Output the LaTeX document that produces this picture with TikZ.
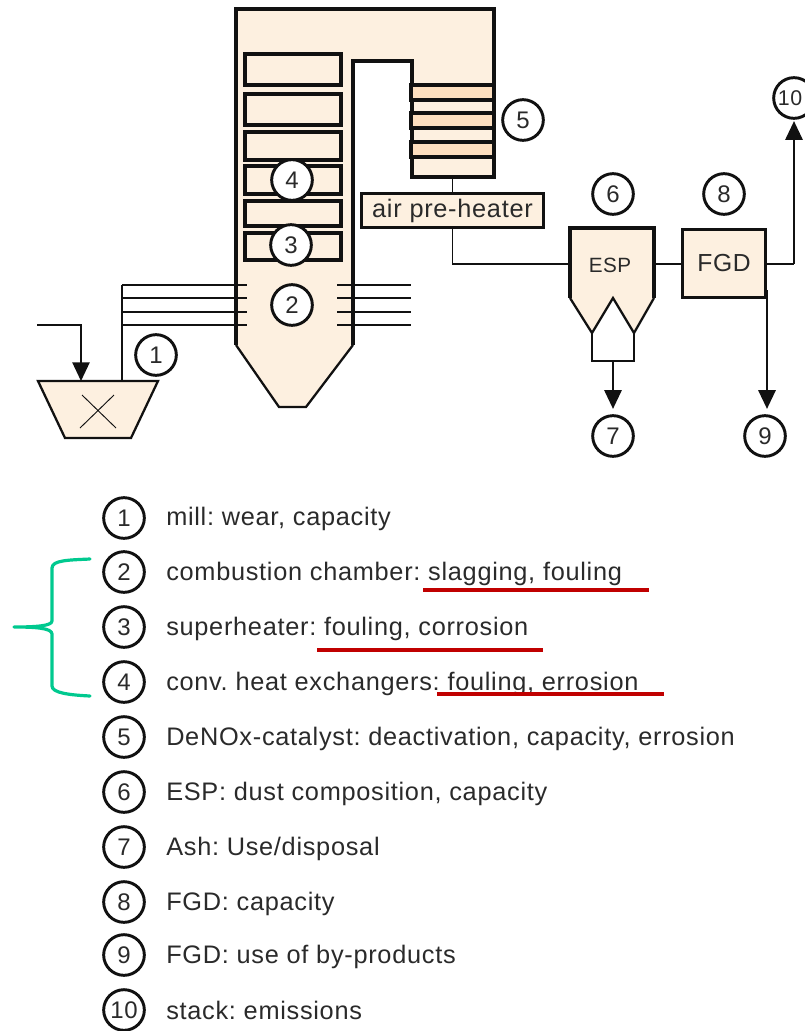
\documentclass[tikz,border=0pt]{standalone}
\usepackage{fontspec}
\setmainfont[LetterSpace=2.8]{Liberation Sans}
\usetikzlibrary{arrows.meta}
\definecolor{cream}{HTML}{FDF0E0}
\definecolor{band}{HTML}{FDDFBF}
\definecolor{ink}{HTML}{111111}
\definecolor{txt}{HTML}{2A2A2A}
\definecolor{redline}{HTML}{C00000}
\definecolor{greenline}{HTML}{00C98F}
\tikzset{
  x=0.75pt,y=-0.75pt,
  heavy/.style={draw=ink,line width=2.4pt,line join=miter},
  medium/.style={draw=ink,line width=1.7pt},
  thin line/.style={draw=ink,line width=1.1pt},
  tube/.style={heavy,fill=cream},
  bandbox/.style={heavy,fill=band},
  num/.style={circle,draw=ink,fill=white,line width=2.2pt,minimum size=30.5pt,inner sep=0pt,text=txt,font=\fontsize{18}{18}\selectfont},
  lab/.style={anchor=west,inner sep=0pt,text=txt,font=\fontsize{19}{19}\selectfont},
  flow/.style={thin line,-{Triangle[length=14pt,width=13pt]}},
  marker/.style={draw=redline,line width=2.4pt},
  brace/.style={draw=greenline,line width=2.4pt,line cap=round,line join=round}
}
\begin{document}
\frenchspacing
\begin{tikzpicture}
\useasboundingbox (0,0) rectangle (804,1031);
% boiler
\fill[cream] (236,9) -- (494,9) -- (494,177) -- (412,177) -- (412,61) -- (353,61) -- (353,345) -- (306,407) -- (279,407) -- (236,345) -- cycle;
\draw[heavy] (236,345) -- (236,9) -- (494,9) -- (494,177) -- (412,177) -- (412,61) -- (353,61) -- (353,345);
\draw[medium] (236,345) -- (279,407) -- (306,407) -- (353,345);
\foreach \a/\b in {54/85,94/125,132/160,166/194,201/226,233/260}
  \draw[tube] (245,\a) rectangle (341,\b);
\foreach \a/\b in {85/100,113/128,142/157}
  \draw[bandbox] (411,\a) rectangle (494,\b);
\node[draw=ink,line width=2.2pt,fill=cream,minimum width=136pt,minimum height=25pt,inner sep=0pt,text=txt,font=\fontsize{19}{19}\selectfont] (aph) at (452.5,210.5) {\raisebox{0.6pt}{air pre-heater}};
\coordinate (apin) at (452.5,177);
\draw[thin line] (apin) -- (aph.north);
% burners
\foreach \y in {285,298,312,325} {
  \draw[thin line] (122,\y) -- (247,\y);
  \draw[thin line] (337,\y) -- (411,\y);
}
% mill
\draw[medium,fill=cream] (38,381) -- (158,381) -- (131,438) -- (65,438) -- cycle;
\draw[draw=ink,line width=0.7pt] (82,395) -- (116,428) (114,395) -- (80,428);
\draw[thin line] (122,285) -- (122,381);
\coordinate (feedstart) at (37,325);
\coordinate (feedcorner) at (81,325);
\coordinate (feedend) at (81,381);
\draw[flow] (feedstart) -- (feedcorner) -- (feedend);
% ESP
\fill[cream] (570,228) -- (654,228) -- (654,298) -- (634,333) -- (613,298) -- (592,333) -- (570,298) -- cycle;
\draw[heavy] (570,298) -- (570,228) -- (654,228) -- (654,298);
\draw[medium] (570,298) -- (592,333) -- (613,298) -- (634,333) -- (654,298);
\draw[thin line] (592,333) -- (592,361) -- (634,361) -- (634,333);
\node[text=txt,font=\fontsize{15.5}{15.5}\selectfont,inner sep=0pt] (esp) at (610,265) {ESP};
% FGD
\node[draw=ink,line width=2.4pt,fill=cream,minimum width=62pt,minimum height=51pt,inner sep=0pt,text=txt,font=\fontsize{18.5}{18.5}\selectfont] (fgd) at (724,263.5) {FGD};
\coordinate (espin) at (570,264);
\coordinate (espout) at (654,264);
\coordinate (aphcorner) at (452.5,264);
\draw[thin line] (aph.south) -- (aphcorner) -- (espin);
\draw[thin line] (espout) -- (espout -| fgd.west);
% numbered circles
\node[num] (n1) at (156,355) {1};
\node[num] (n2) at (292,305) {2};
\node[num] (n3) at (291,245) {3};
\node[num] (n4) at (292,180) {4};
\node[num] (n5) at (523,120) {5};
\node[num] (n6) at (613,194) {6};
\node[num] (n7) at (613,436) {7};
\node[num] (n8) at (724,194) {8};
\node[num] (n9) at (765,436) {9};
\node[num] (n10) at (794,98) {};
\node[inner sep=0pt,text=txt,font=\fontsize{16}{16}\selectfont] (n10text) at (790,98) {10};
% flows
\coordinate (espdrop) at (613,361);
\draw[flow,shorten >=4pt] (espdrop) -- (n7.north);
\coordinate (fgdup) at (794,264);
\coordinate (fgdout) at (766,264);
\draw[thin line] (fgdout) -- (fgdup);
\draw[flow,shorten >=1pt] (fgdup) -- (n10.south);
\coordinate (fgddown) at (767,290);
\draw[flow,line width=1.3pt,shorten >=4pt] (fgddown) -- (fgddown |- n9.north);
% legend
\foreach \i/\y/\ty/\t in {1/518/519/{mill: wear, capacity},2/572/574/{combustion chamber: slagging, fouling},3/627/629/{superheater: fouling, corrosion},4/682/684/{conv. heat exchangers: fouling, errosion},5/737/739/{DeNOx-catalyst: deactivation, capacity, errosion},6/792/794/{ESP: dust composition, capacity},7/847/849/{Ash: Use/disposal},8/902/904/{FGD: capacity},9/955/957/{FGD: use of by-products},10/1010/1010/{stack: emissions}} {
  \node[num] (l\i) at (124,\y) {\i};
  \node[lab] (t\i) at (166,\ty) {\t};
}
% highlights
\draw[marker] (423,590) -- (649,590);
\draw[marker] (317,650) -- (543,650);
\draw[marker] (437,694) -- (664,694);
\draw[brace] (90,559) .. controls (70,560) and (52,560) .. (52,568) -- (52,621) .. controls (52,626) and (35,627) .. (14,627) .. controls (35,627) and (52,628) .. (52,634) -- (52,686) .. controls (52,693) and (70,695) .. (90,696);
\end{tikzpicture}
\end{document}
